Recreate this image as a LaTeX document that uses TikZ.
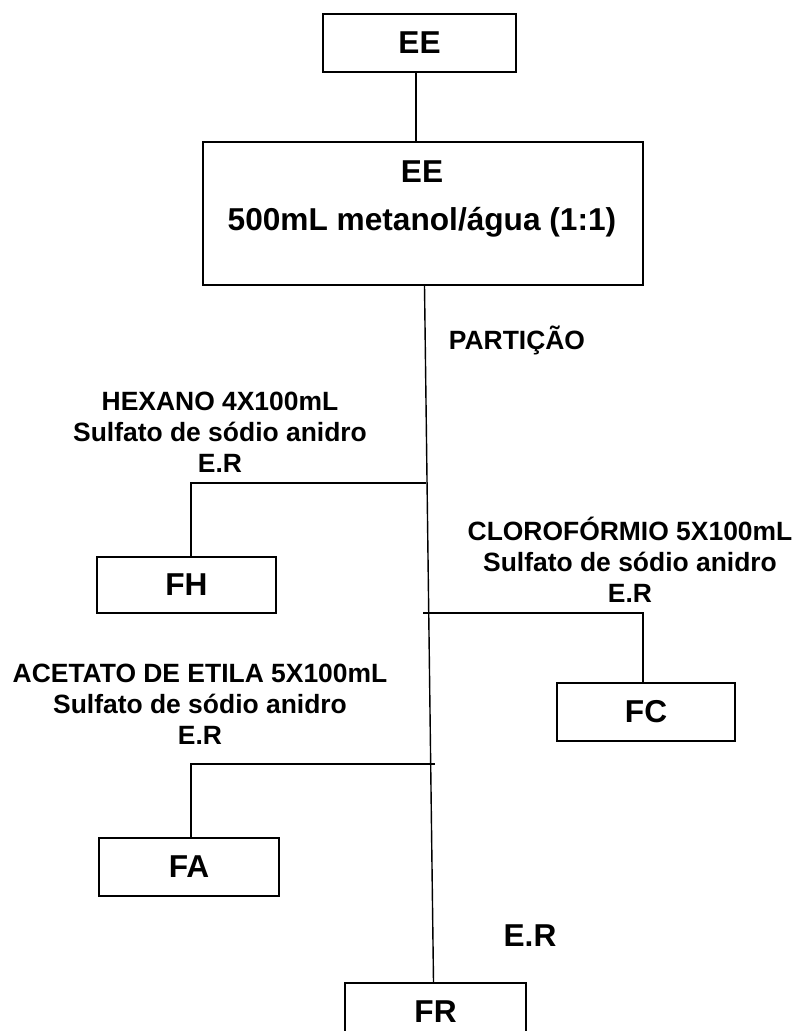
\documentclass[tikz,border=0pt]{standalone}
\usepackage{fontspec}
\setmainfont{Liberation Sans}
\usepackage{tikz}
\usetikzlibrary{positioning, calc}
\tikzset{
  box/.style={rectangle, draw=black, line width=1.3pt, inner sep=0pt,
    minimum height=1.45cm, font=\fontsize{22.5}{26}\selectfont\bfseries},
  bigtxt/.style={align=center, inner sep=0pt,
    font=\fontsize{22.5}{34}\selectfont\bfseries},
  steptxt/.style={align=center, inner sep=0pt,
    font=\fontsize{18.8}{22}\selectfont\bfseries},
  conn/.style={line width=1pt, color=black}
}

\begin{document}
\begin{tikzpicture}[x=0.025cm, y=-0.025cm]
\path[use as bounding box, fill=white] (0,0) rectangle (795,1031);
\clip (0,0) rectangle (795,1031);

%--- EXTRACT ---
\node[box, minimum width=4.825cm] (eetop) at (419.5,43) {EE};
\node[box, minimum width=11cm, minimum height=3.575cm] (ext) at (423,213.5) {};
\node[bigtxt] (exttxt) at (422,199) {EE\\500mL metanol/água (1:1)};
\coordinate (ct) at ($(eetop.south)+(-3.5,0)$);
\draw[conn] (ct) -- (ct |- ext.north);

%--- PARTITION ---
\node[steptxt] (part) at (517,340) {PARTIÇÃO};
\node[box, minimum width=4.525cm] (fr) at (435.5,1012) {FR};
\draw[conn] ($(ext.south)+(1.5,0)$) -- ($(fr.north)+(-2,0)$);
\node[box, draw=none, minimum height=0pt] (erfinal) at (530,936) {E.R};

% hexane
\node[steptxt] (hex) at (220,432) {HEXANO 4X100mL\\Sulfato de sódio anidro\\E.R};
\node[box, minimum width=4.475cm, minimum height=1.4cm] (fh) at (186.5,585) {FH};
\coordinate (jh) at (425.5,483);
\draw[conn] (jh) -| ($(fh.north)+(4.5,0)$);

% chloroform
\node[steptxt] (clo) at (630,560) {CLOROFÓRMIO 5X100mL\\Sulfato de sódio anidro\\E.R};
\node[box, minimum width=4.45cm] (fc) at (646,712) {FC};
\coordinate (jc) at (423,613);
\draw[conn] (jc) -| ($(fc.north)+(-3,0)$);

% ethyl acetate
\node[steptxt] (ace) at (200,704) {ACETATO DE ETILA 5X100mL\\Sulfato de sódio anidro\\E.R};
\node[box, minimum width=4.5cm] (fa) at (189,867) {FA};
\coordinate (ja) at (435,764);
\draw[conn] (ja) -| ($(fa.north)+(2,0)$);
\end{tikzpicture}
\end{document}
